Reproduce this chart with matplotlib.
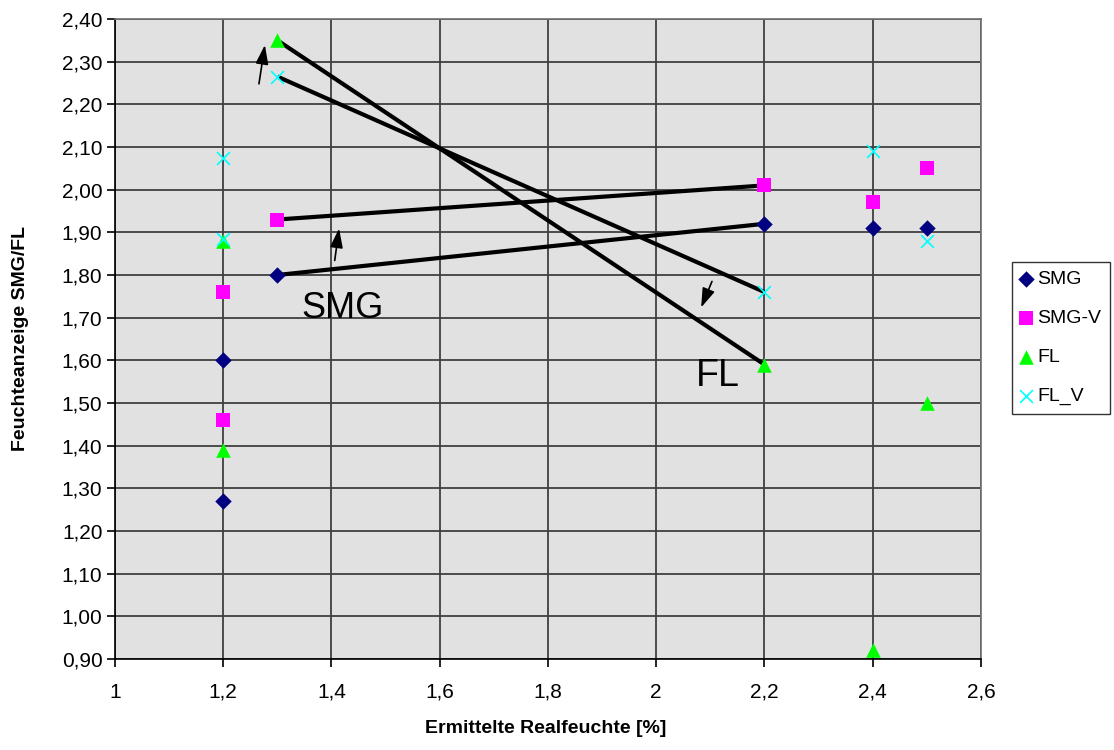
import matplotlib
matplotlib.use("Agg")
import matplotlib.pyplot as plt
from matplotlib.ticker import FuncFormatter, MultipleLocator

plt.rcParams['font.family'] = ['Liberation Sans', 'DejaVu Sans']

# Data
smg_x = [1.2, 1.2, 1.3, 2.2, 2.4, 2.5]
smg_y = [1.60, 1.27, 1.80, 1.92, 1.91, 1.91]
smgv_x = [1.2, 1.2, 1.3, 2.2, 2.4, 2.5]
smgv_y = [1.76, 1.46, 1.93, 2.01, 1.97, 2.05]
fl_x = [1.2, 1.2, 1.3, 2.2, 2.4, 2.5]
fl_y = [1.88, 1.39, 2.35, 1.59, 0.92, 1.50]
flv_x = [1.2, 1.2, 1.3, 2.2, 2.4, 2.5]
flv_y = [2.075, 1.885, 2.265, 1.76, 2.09, 1.88]

# trend lines (start at x=1.3, end at x=2.2)
line_x = [1.3, 2.2]
lines_y = {
    'SMG': [1.80, 1.92],
    'SMG-V': [1.93, 2.01],
    'FL': [2.35, 1.59],
    'FL_V': [2.265, 1.76],
}

fig = plt.figure(figsize=(11.14, 7.5), dpi=100)
ax = fig.add_axes([0.1032, 0.1213, 0.7774, 0.8534])
ax.set_facecolor('#e1e1e1')

ax.set_xlim(1.0, 2.6)
ax.set_ylim(0.9, 2.4)
ax.xaxis.set_major_locator(MultipleLocator(0.2))
ax.yaxis.set_major_locator(MultipleLocator(0.1))

def fmt_x(v, pos):
    s = ('%.1f' % v).rstrip('0').rstrip('.')
    return s.replace('.', ',')

def fmt_y(v, pos):
    return ('%.2f' % v).replace('.', ',')

ax.xaxis.set_major_formatter(FuncFormatter(fmt_x))
ax.yaxis.set_major_formatter(FuncFormatter(fmt_y))

ax.grid(True, color='#404040', linewidth=1.3, zorder=1)
ax.set_axisbelow(True)

for sp in ['top', 'right']:
    ax.spines[sp].set_color('#707070')
    ax.spines[sp].set_linewidth(1.2)
for sp in ['left', 'bottom']:
    ax.spines[sp].set_color('black')
    ax.spines[sp].set_linewidth(1.2)

ax.tick_params(axis='both', direction='out', length=6, width=1.2, labelsize=15, colors='black')
ax.tick_params(axis='x', pad=11)
ax.tick_params(axis='y', pad=3)

for k, ys in lines_y.items():
    ax.plot(line_x, ys, color='black', linewidth=3, zorder=2, solid_capstyle='butt')

ax.scatter(smg_x, smg_y, marker='D', s=70, color='#000080', zorder=3, label='SMG', linewidths=0)
ax.scatter(smgv_x, smgv_y, marker='s', s=110, color='#ff00ff', zorder=3, label='SMG-V', linewidths=0)
ax.scatter(fl_x, fl_y, marker='^', s=110, color='#00ff00', zorder=3, label='FL', linewidths=0)
ax.scatter(flv_x, flv_y, marker='x', s=85, color='#00ffff', zorder=4, label='FL_V', linewidths=1.2)

arrow_kw = dict(arrowstyle='-|>,head_length=0.9,head_width=0.3', color='black', lw=1.2,
                shrinkA=0, shrinkB=0, mutation_scale=13)
ax.annotate('', xy=(1.277, 2.339), xytext=(1.266, 2.248), arrowprops=arrow_kw, zorder=5)
ax.annotate('', xy=(1.414, 1.909), xytext=(1.406, 1.834), arrowprops=arrow_kw, zorder=5)
ax.annotate('', xy=(2.083, 1.724), xytext=(2.103, 1.785), arrowprops=arrow_kw, zorder=5)

ax.text(1.344, 1.700, 'SMG', fontsize=26, ha='left', va='baseline', zorder=5)
ax.text(2.073, 1.541, 'FL', fontsize=27, ha='left', va='baseline', zorder=5)

fig.text(0.4898, 0.0293, 'Ermittelte Realfeuchte [%]', fontsize=14, fontweight='bold',
         ha='center', va='center')
fig.text(0.018, 0.549, 'Feuchteanzeige SMG/FL', fontsize=14, fontweight='bold',
         ha='center', va='center', rotation=90)

leg = fig.legend(loc='upper right', bbox_to_anchor=(1110/1114, 1 - 262/750),
                 bbox_transform=fig.transFigure, frameon=True, fancybox=False,
                 edgecolor='black', fontsize=14, handletextpad=0.35, handlelength=0.5,
                 labelspacing=1.09, borderpad=0.45, borderaxespad=0)
leg.get_frame().set_linewidth(1.0)

fig.savefig('out.png', dpi=100, facecolor='white')
